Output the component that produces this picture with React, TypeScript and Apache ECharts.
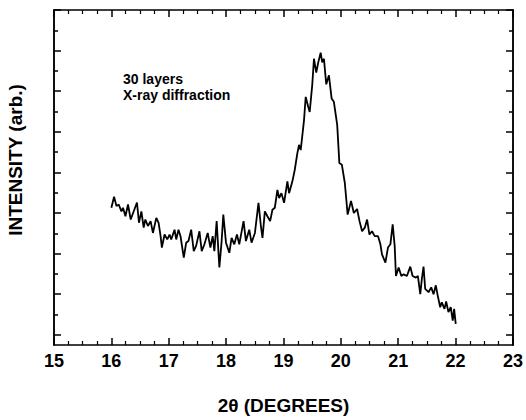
import React, { useEffect, useRef } from "react";
import * as echarts from "echarts";

// 2θ (degrees) and intensity (arbitrary units)
const twoTheta: number[] = [
  16.0, 16.047, 16.089, 16.128, 16.175, 16.203, 16.245, 16.29, 16.337, 16.446,
  16.481, 16.523, 16.563, 16.592, 16.637, 16.684, 16.724, 16.783, 16.823, 16.858,
  16.88, 16.927, 16.974, 17.014, 17.043, 17.101, 17.13, 17.17, 17.205, 17.262,
  17.304, 17.344, 17.391, 17.436, 17.477, 17.535, 17.575, 17.622, 17.679, 17.726,
  17.766, 17.795, 17.835, 17.882, 17.922, 17.951, 17.998, 18.056, 18.095, 18.142,
  18.189, 18.229, 18.304, 18.345, 18.403, 18.443, 18.502, 18.564, 18.606, 18.634,
  18.675, 18.72, 18.767, 18.807, 18.849, 18.894, 18.924, 18.964, 19.01, 19.068,
  19.097, 19.155, 19.196, 19.241, 19.271, 19.3, 19.358, 19.387, 19.432, 19.457,
  19.502, 19.531, 19.571, 19.606, 19.648, 19.675, 19.705, 19.745, 19.792, 19.839,
  19.878, 19.936, 19.974, 20.017, 20.069, 20.118, 20.177, 20.226, 20.283, 20.325,
  20.37, 20.417, 20.457, 20.498, 20.543, 20.59, 20.648, 20.689, 20.717, 20.776,
  20.821, 20.863, 20.903, 20.938, 20.96, 21.007, 21.054, 21.094, 21.151, 21.21,
  21.25, 21.307, 21.342, 21.384, 21.411, 21.441, 21.47, 21.528, 21.575, 21.615,
  21.655, 21.689, 21.731, 21.759, 21.806, 21.835, 21.875, 21.915, 21.95, 21.974,
  22.002,
];
const intensity: number[] = [
  3.13, 3.4, 3.17, 3.21, 3.04, 3.13, 2.92, 3.21, 2.84, 3.26,
  2.76, 3.04, 2.64, 2.84, 2.68, 2.8, 2.51, 2.88, 2.76, 2.43,
  2.15, 2.47, 2.35, 2.47, 2.35, 2.59, 2.35, 2.59, 2.43, 1.9,
  2.27, 2.31, 2.59, 2.06, 2.19, 2.55, 2.06, 2.23, 2.51, 2.15,
  2.43, 2.06, 2.8, 1.66, 2.31, 2.96, 2.27, 2.02, 2.39, 2.23,
  2.47, 2.23, 2.8, 2.31, 2.59, 2.27, 2.51, 3.25, 2.68, 2.39,
  3.04, 2.92, 2.8, 3.08, 3.13, 3.57, 3.37, 3.49, 3.25, 3.78,
  3.49, 3.78, 4.06, 4.47, 4.68, 4.55, 5.29, 5.86, 5.61, 5.49,
  6.17, 6.8, 6.46, 6.71, 6.95, 6.71, 6.8, 6.17, 6.39, 5.82,
  5.74, 5.17, 4.23, 4.19, 3.74, 2.96, 3.3, 3.0, 3.1, 2.8,
  2.55, 2.64, 2.84, 2.47, 2.55, 2.43, 2.43, 2.23, 1.98, 1.78,
  2.15, 2.23, 2.72, 2.19, 1.45, 1.66, 1.45, 1.49, 1.45, 1.68,
  1.45, 1.41, 1.45, 1.0, 1.37, 1.68, 1.13, 1.05, 1.17, 1.0,
  1.22, 0.96, 0.68, 0.8, 0.64, 0.82, 0.56, 0.68, 0.35, 0.64,
  0.27,
];

const xMin = 15;
const xMax = 23;
const yMin = -0.25;
const yMax = 8;
const yMajorTicks: number[] = [0, 1, 2, 3, 4, 5, 6, 7, 8];
const yMinorTicks: number[] = [0.5, 1.5, 2.5, 3.5, 4.5, 5.5, 6.5, 7.5];

const annotationLines: string[] = ["30 layers", "X-ray diffraction"];
const xTitle = "2θ (DEGREES)";
const yTitle = "INTENSITY (arb.)";

const FONT = "Arial, 'Liberation Sans', Helvetica, sans-serif";

export default function App() {
  const ref = useRef<HTMLDivElement>(null);

  useEffect(() => {
    document.body.style.margin = "0";
    if (!ref.current) return;
    const chart = echarts.init(ref.current, undefined, { renderer: "svg" });

    const axisLine = { show: true, onZero: false, lineStyle: { color: "#000", width: 1.5 } };

    const xBase = (pos: "top" | "bottom", labels: boolean) => ({
      type: "value" as const,
      position: pos,
      min: xMin,
      max: xMax,
      interval: 1,
      axisLine,
      axisTick: { show: true, inside: true, length: 7, lineStyle: { color: "#000", width: 1.5 } },
      minorTick: { show: true, splitNumber: 4, length: 4, lineStyle: { color: "#000", width: 1.2 } },
      splitLine: { show: false },
      minorSplitLine: { show: false },
      axisLabel: {
        show: labels,
        color: "#000",
        fontFamily: FONT,
        fontWeight: "bold",
        fontSize: 18,
        margin: 7,
      },
    });

    const yBase = (pos: "left" | "right", ticks: number[], len: number) => ({
      type: "value" as const,
      position: pos,
      min: yMin,
      max: yMax,
      axisLine,
      axisTick: {
        show: true,
        inside: true,
        length: len,
        customValues: ticks,
        lineStyle: { color: "#000", width: 1.5 },
      },
      splitLine: { show: false },
      axisLabel: { show: false },
    });

    chart.setOption({
      animation: false,
      backgroundColor: "#fff",
      grid: { left: 54, right: 11, top: 10, bottom: 73 },
      xAxis: [
        {
          ...xBase("bottom", true),
          name: xTitle,
          nameLocation: "middle",
          nameGap: 51,
          nameTextStyle: { color: "#000", fontFamily: FONT, fontWeight: "bold", fontSize: 19 },
        },
        xBase("top", false),
      ],
      yAxis: [
        yBase("left", yMajorTicks, 7),
        yBase("left", yMinorTicks, 4),
        yBase("right", yMajorTicks, 7),
        yBase("right", yMinorTicks, 4),
      ],
      series: [
        {
          type: "line",
          xAxisIndex: 0,
          yAxisIndex: 0,
          data: twoTheta.map((x, i) => [x, intensity[i]]),
          showSymbol: false,
          symbol: "none",
          lineStyle: { color: "#000", width: 1.8 },
        },
      ],
      graphic: [
        {
          type: "text",
          x: 15,
          y: 160,
          rotation: Math.PI / 2,
          style: {
            text: yTitle,
            fill: "#000",
            font: `bold 19px ${FONT}`,
            align: "center",
            verticalAlign: "middle",
          },
        },
        {
          type: "text",
          left: 123,
          top: 71,
          style: {
            text: annotationLines.join("\n"),
            fill: "#000",
            font: `bold 14px ${FONT}`,
            lineHeight: 16,
          },
        },
      ],
    });

    return () => chart.dispose();
  }, []);

  return <div ref={ref} style={{ width: 526, height: 420 }} />;
}
